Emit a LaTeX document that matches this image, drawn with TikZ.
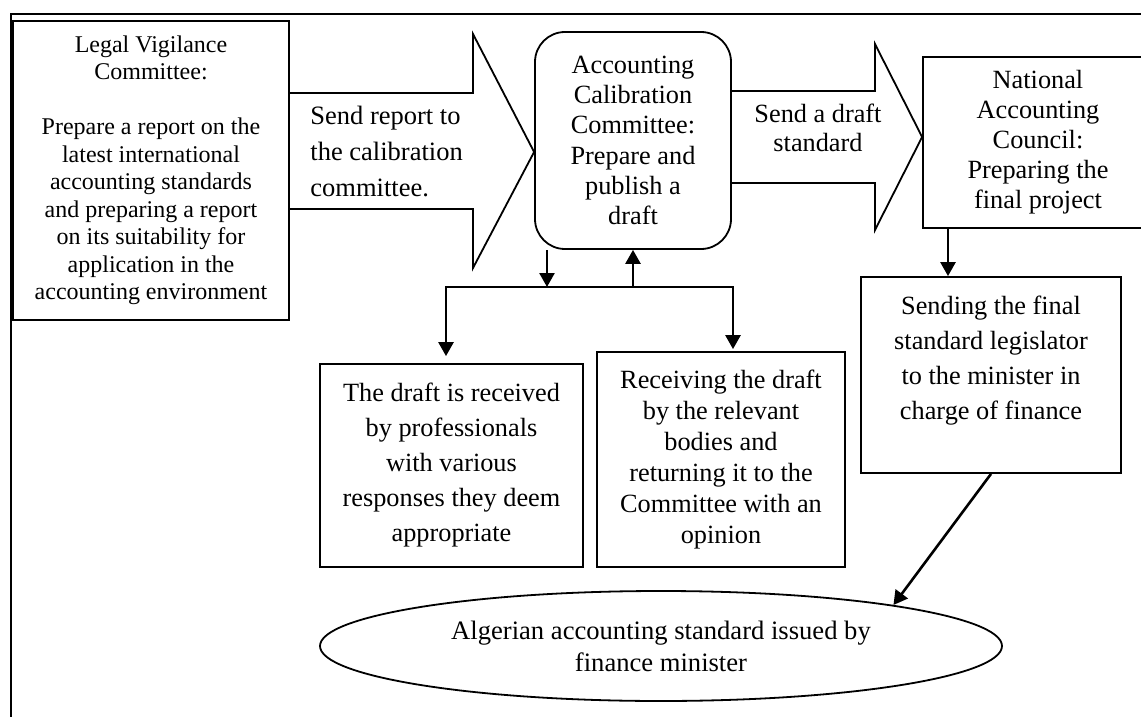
\documentclass[tikz,border=0pt]{standalone}
\usepackage{fontspec}
\setmainfont{Liberation Serif}
\usetikzlibrary{shapes.geometric,arrows.meta}

\begin{document}
\begin{tikzpicture}[x=0.5pt,y=-0.5pt,
  box/.style={draw,line width=0.9pt,inner sep=0pt,align=center},
  arr/.style={line width=1.3pt,-{Triangle[length=7pt,width=7.5pt]}},
  blockarrow/.style={draw,line width=0.9pt,line join=miter},
  lbl/.style={inner sep=0pt}]
\useasboundingbox (0,0) rectangle (1141,717);
\clip (0,0) rectangle (1141,717);

% page frame (top and left rules)
\draw[line width=0.9pt] (11,717) -- (11,14) -- (1141,14);

% committees and steps
\node[box,minimum width=138pt,minimum height=149.5pt,
      font=\fontsize{12pt}{13.75pt}\selectfont] (lv) at (151,170.5)
  {Legal Vigilance\\Committee:\\[13.75pt]Prepare a report on the\\latest international\\accounting standards\\and preparing a report\\on its suitability for\\application in the\\accounting environment};

\node[box,rounded corners=15pt,minimum width=98pt,minimum height=108.5pt,
      font=\fontsize{13.15pt}{15.1pt}\selectfont] (acc) at (633,140.5)
  {Accounting\\Calibration\\Committee:\\Prepare and\\publish a\\draft};

% this box runs past the right edge of the page
\node[box,minimum width=115pt,minimum height=85.5pt,
      font=\fontsize{13.15pt}{15pt}\selectfont] (nac) at (1038,142.5)
  {National\\Accounting\\Council:\\Preparing the\\final project};

\node[box,minimum width=130pt,minimum height=98pt,
      font=\fontsize{13.15pt}{17.5pt}\selectfont] (snd) at (991,375)
  {Sending the final\\standard legislator\\to the minister in\\charge of finance\\\mbox{}};

\node[box,minimum width=131.5pt,minimum height=101.5pt,
      font=\fontsize{13.15pt}{17.5pt}\selectfont] (rcv1) at (451.5,465.5)
  {The draft is received\\by professionals\\with various\\responses they deem\\appropriate};

\node[box,minimum width=124pt,minimum height=107.5pt,
      font=\fontsize{13.15pt}{15.5pt}\selectfont] (rcv2) at (721,459.5)
  {Receiving the draft\\by the relevant\\bodies and\\returning it to the\\Committee with an\\opinion};

\node[box,ellipse,minimum width=341pt,minimum height=55pt,
      font=\fontsize{13.3pt}{16pt}\selectfont] (ell) at (661,646)
  {Algerian accounting standard issued by\\finance minister};

% block arrows between the committees
\draw[blockarrow] (lv.east |- 0,93) -- (473,93) -- (473,34)
  -- (acc.west |- 0,152) -- (473,268) -- (473,209) -- (lv.east |- 0,209);
\draw[blockarrow] (acc.east |- 0,91) -- (875,91) -- (875,44)
  -- (nac.west |- 0,137) -- (875,230) -- (875,183) -- (acc.east |- 0,183);

\node[lbl,anchor=west,align=left,font=\fontsize{13.25pt}{18pt}\selectfont]
  (sendA) at (310,151) {Send report to\\the calibration\\committee.};
\node[lbl,align=center,font=\fontsize{13.15pt}{14.5pt}\selectfont]
  (sendB) at (818,127.5) {Send a draft\\standard};

% consultation loop below the calibration committee
\coordinate (busL) at (446,287);
\coordinate (busR) at (733,287);
\coordinate (dn) at (547,250);
\draw[line width=0.9pt] (busL) -- (busR);
\draw[arr] (dn) -- (dn |- busL);
\draw[arr] (acc.south |- busL) -- (acc.south);
\draw[arr,shorten >=3.5pt] ([yshift=0.45pt]busL) -- (busL |- rcv1.north);
\draw[arr,shorten >=1pt] ([yshift=0.45pt]busR) -- (busR |- rcv2.north);

% final steps
\coordinate (fx) at (948,0);
\draw[arr] (nac.south -| fx) -- (snd.north -| fx);
\draw[arr] (snd.south) -- (ell.10);
\end{tikzpicture}
\end{document}
